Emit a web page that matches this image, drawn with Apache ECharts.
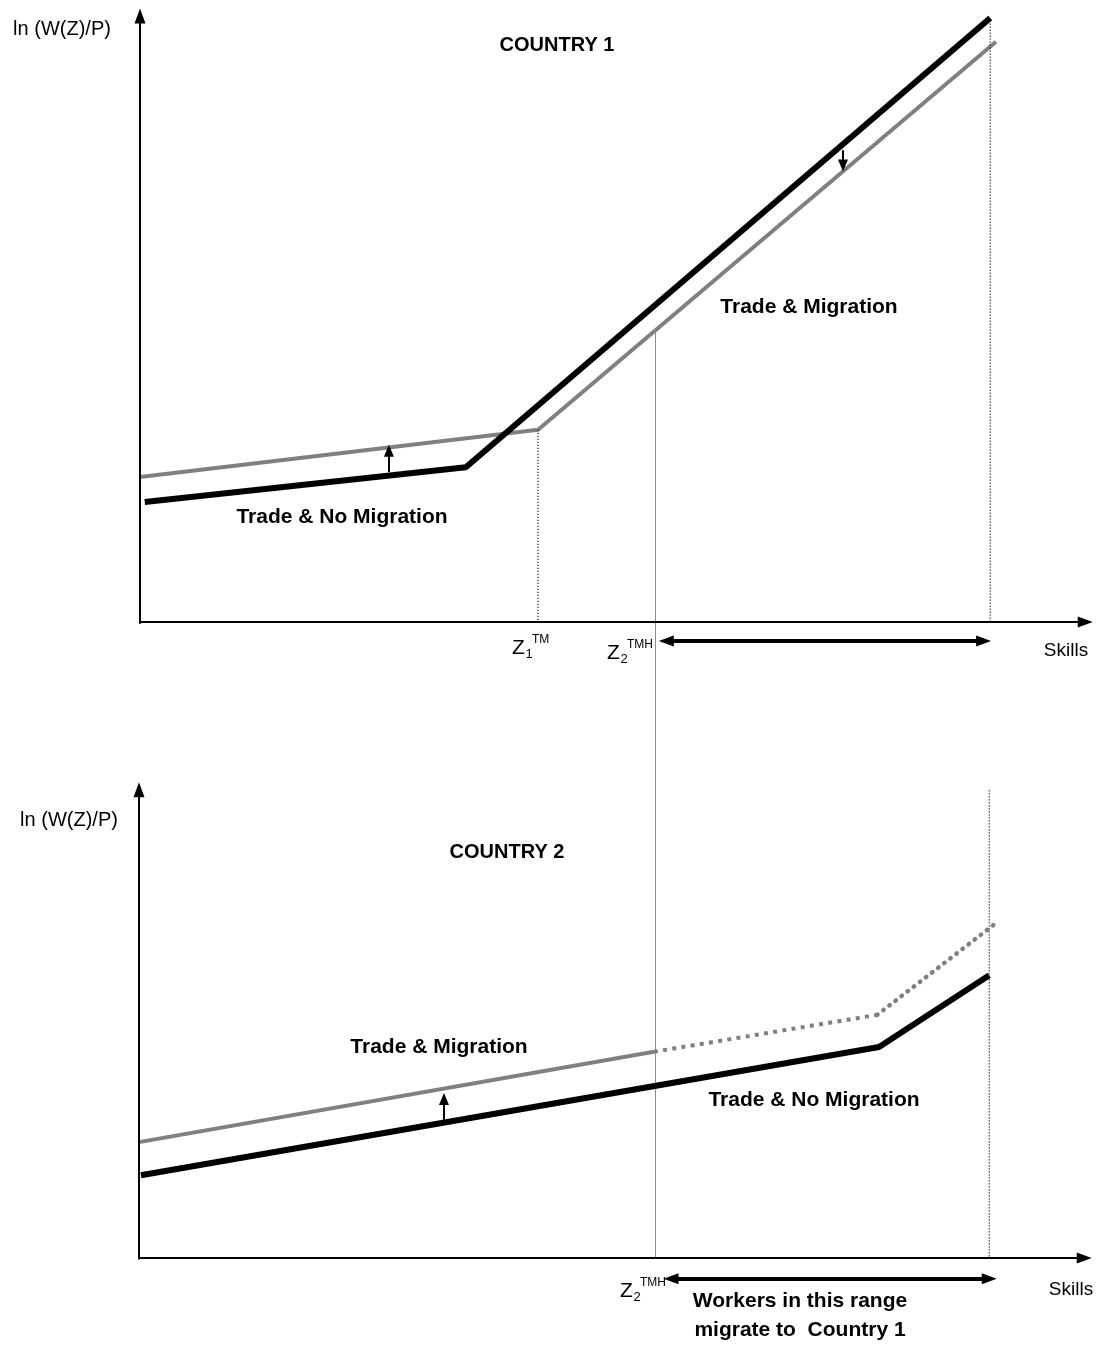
<!DOCTYPE html>
<html><head><meta charset="utf-8">
<script src="https://cdn.jsdelivr.net/npm/echarts@6/dist/echarts.min.js"></script>
<style>html,body{margin:0;padding:0;background:#fff}#c{width:1098px;height:1349px}</style>
</head><body><div id="c"></div><script>
// ---------- data (skills on x, ln(W(Z)/P) on y, schematic units) ----------
const z1TM = 4.19;      // Z1^TM threshold
const z2TMH = 5.42;     // Z2^TMH threshold
const zMax = 8.95;      // top of skill range
// Country 1
const c1NoMigX = [0.05, 3.43, 8.95];
const c1NoMigY = [1.96, 2.53, 9.87];
const c1MigX = [0, 4.19, 9.01];
const c1MigY = [2.37, 3.14, 9.48];
// Country 2
const c2NoMigX = [0.02, 7.79, 8.95];
const c2NoMigY = [1.75, 4.46, 5.98];
const c2MigSolidX = [0, 5.42];
const c2MigSolidY = [2.45, 4.36];
const c2MigDashX = [5.42, 7.77];
const c2MigDashY = [4.36, 5.14];
const c2MigDotX = [7.77, 9.02];
const c2MigDotY = [5.14, 7.08];
// shift arrows [x, yFrom, yTo]
const c1UpArrow = [2.62, 2.45, 2.80];
const c1DownArrow = [7.40, 7.71, 7.46];
const c2UpArrow = [3.21, 2.92, 3.36];

const zip = (xs, ys) => xs.map((x, i) => [x, ys[i]]);
const FONT = '"Liberation Sans", Arial, sans-serif';
const GRAY = '#808080';

const chart = echarts.init(document.getElementById('c'), null, {renderer: 'canvas'});

function lineS(grid, data, style, extra) {
  return Object.assign({
    type: 'line', xAxisIndex: grid, yAxisIndex: grid, data: data,
    symbol: 'none', silent: true, animation: false, clip: false,
    lineStyle: style
  }, extra || {});
}
function arrowLine(a, b, head, both) {
  const s = [{coord: a}, {coord: b, symbol: 'triangle', symbolSize: head}];
  if (both) { s[0].symbol = 'triangle'; s[0].symbolSize = head; }
  return s;
}
function markS(grid, items, width) {
  return {
    type: 'line', xAxisIndex: grid, yAxisIndex: grid, data: [], silent: true,
    animation: false, clip: false,
    markLine: {
      silent: true, animation: false, symbol: ['none', 'none'],
      label: {show: false},
      lineStyle: {color: '#000', width: width, type: 'solid'},
      emphasis: {disabled: true},
      data: items
    }
  };
}
const DOT = {color: '#222', width: 1.2, type: [1.2, 1.8]};

const option = {
  animation: false,
  backgroundColor: '#fff',
  grid: [
    {left: 140, top: 10, width: 950, height: 673.2},
    {left: 139, top: 785, width: 950, height: 553.4}
  ],
  xAxis: [
    {type: 'value', gridIndex: 0, min: 0, max: 10, show: false},
    {type: 'value', gridIndex: 1, min: 0, max: 10, show: false}
  ],
  yAxis: [
    {type: 'value', gridIndex: 0, min: -1, max: 10, show: false},
    {type: 'value', gridIndex: 1, min: -1.7, max: 10, show: false}
  ],
  series: [
    // axes
    markS(0, [
      arrowLine([0, -0.03], [0, 9.9], [11, 15]),
      arrowLine([0, 0], [9.95, 0], [11, 15])
    ], 2),
    markS(1, [
      arrowLine([0, -0.03], [0, 9.9], [11, 15]),
      arrowLine([0, 0], [9.95, 0], [11, 15])
    ], 2),
    // country 1 curves
    lineS(0, zip(c1MigX, c1MigY), {color: GRAY, width: 4}),
    lineS(0, zip(c1NoMigX, c1NoMigY), {color: '#000', width: 6}),
    lineS(0, [[z1TM, c1MigY[1]], [z1TM, 0]], DOT),
    lineS(0, [[zMax, 9.78], [zMax, 0]], DOT),
    // country 1 arrows
    markS(0, [
      arrowLine([c1UpArrow[0], c1UpArrow[1]], [c1UpArrow[0], c1UpArrow[2]], [10, 12]),
      arrowLine([c1DownArrow[0], c1DownArrow[1]], [c1DownArrow[0], c1DownArrow[2]], [10, 12])
    ], 2),
    markS(0, [arrowLine([z2TMH + 0.12, -0.31], [zMax - 0.07, -0.31], [11, 15], true)], 4),
    // country 2 curves
    lineS(1, zip(c2MigSolidX, c2MigSolidY), {color: GRAY, width: 4}),
    lineS(1, zip(c2MigDashX, c2MigDashY), {color: GRAY, width: 4, type: [4, 5.3], cap: 'butt'}),
    lineS(1, zip(c2MigDotX, c2MigDotY), {color: GRAY, width: 4.5, type: [0.5, 7.2], cap: 'round'}),
    lineS(1, zip(c2NoMigX, c2NoMigY), {color: '#000', width: 6}),
    lineS(1, [[zMax, 9.89], [zMax, 0]], DOT),
    markS(1, [
      arrowLine([c2UpArrow[0], c2UpArrow[1]], [c2UpArrow[0], c2UpArrow[2]], [10, 12])
    ], 2),
    markS(1, [arrowLine([z2TMH + 0.18, -0.44], [zMax + 0.0, -0.44], [11, 15], true)], 4)
  ]
};
chart.setOption(option);

// ---------- texts & the Z2 threshold line spanning both panels ----------
function txt(x, y, s, size, bold, align) {
  return {type: 'text', x: x, y: y, silent: true,
    style: {text: s, fill: '#000', font: (bold ? 'bold ' : '') + size + 'px ' + FONT,
      align: align || 'center', verticalAlign: 'middle'}};
}
function zLabel(x, y, sub, sup) {
  return [
    txt(x, y, 'Z', 21, false, 'left'),
    txt(x + 13.5, y + 6, sub, 13, false, 'left'),
    txt(x + 20, y - 8.5, sup, 12, false, 'left')
  ];
}
// gray line value of Country 1 at Z2 threshold
const t = (z2TMH - c1MigX[1]) / (c1MigX[2] - c1MigX[1]);
const c1AtZ2 = c1MigY[1] + t * (c1MigY[2] - c1MigY[1]);
const pTop = chart.convertToPixel({gridIndex: 0}, [z2TMH, c1AtZ2]);
const pBot = chart.convertToPixel({gridIndex: 1}, [z2TMH, 0]);
const vx = Math.round(pTop[0]) + 0.5;

const graphics = [
  {type: 'line', silent: true, shape: {x1: vx, y1: pTop[1], x2: vx, y2: pBot[1]},
   style: {stroke: '#8c8c8c', lineWidth: 1}},
  txt(62, 29, 'ln (W(Z)/P)', 20),
  txt(69, 820, 'ln (W(Z)/P)', 20),
  txt(557, 45, 'COUNTRY 1', 20, true),
  txt(507, 852, 'COUNTRY 2', 20, true),
  txt(809, 307, 'Trade & Migration', 21, true),
  txt(342, 517, 'Trade & No Migration', 21, true),
  txt(439, 1047, 'Trade & Migration', 21, true),
  txt(814, 1100, 'Trade & No Migration', 21, true),
  txt(1066, 651, 'Skills', 19),
  txt(1071, 1290, 'Skills', 19),
  txt(800, 1301, 'Workers in this range', 21, true),
  txt(800, 1330, 'migrate to  Country 1', 21, true)
].concat(zLabel(512, 648, '1', 'TM'), zLabel(607, 653, '2', 'TMH'), zLabel(620, 1291, '2', 'TMH'));

chart.setOption({graphic: graphics});
</script></body></html>
